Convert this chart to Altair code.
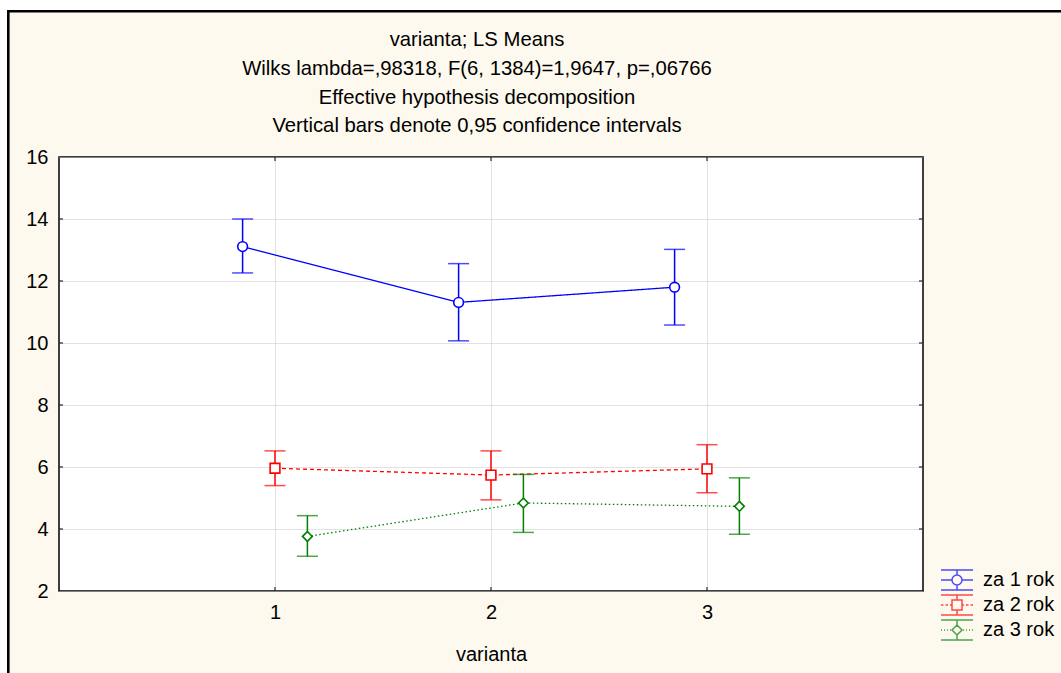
import altair as alt
import pandas as pd

series = ["za 1 rok", "za 2 rok", "za 3 rok"]
varianta = [1, 2, 3]
means = {
    "za 1 rok": [13.11, 11.31, 11.80],
    "za 2 rok": [5.96, 5.74, 5.94],
    "za 3 rok": [3.76, 4.84, 4.73],
}
lows = {
    "za 1 rok": [12.26, 10.07, 10.58],
    "za 2 rok": [5.40, 4.94, 5.17],
    "za 3 rok": [3.12, 3.89, 3.83],
}
highs = {
    "za 1 rok": [14.00, 12.56, 13.02],
    "za 2 rok": [6.52, 6.52, 6.72],
    "za 3 rok": [4.43, 5.76, 5.65],
}
title_lines = [
    "varianta; LS Means",
    "Wilks lambda=,98318, F(6, 1384)=1,9647, p=,06766",
    "Effective hypothesis decomposition",
    "Vertical bars denote 0,95 confidence intervals",
]
y_ticks = [2, 4, 6, 8, 10, 12, 14, 16]
x_ticks = [1, 2, 3]

colors = ["#0000ff", "#ff0000", "#008000"]
shapes = ["circle", "square", "diamond"]
dashes = [[1, 0], [4, 3], [1.5, 2.5]]
offsets = [-0.15, 0.0, 0.15]

rows = []
for s in series:
    for i, v in enumerate(varianta):
        rows.append({"series": s, "varianta": v, "mean": means[s][i],
                     "lo": lows[s][i], "hi": highs[s][i]})
df = pd.DataFrame(rows)

FONT = "Liberation Sans"
W, H = 864, 434
PL, PT = 59, 157
TOTW, TOTH = 1061, 673
TK = 4  # inward tick length

xscale = alt.Scale(domain=[0, 4], nice=False, zero=False)
yscale = alt.Scale(domain=[2, 16], nice=False, zero=False)

xaxis = alt.Axis(values=x_ticks, title="varianta", labelAngle=0, grid=True,
                 gridDash=[1, 1], gridColor="#c4c4c4", ticks=False, domain=False,
                 labelFontSize=20, labelFont=FONT, labelColor="black",
                 labelPadding=11, titleFontSize=20, titleFont=FONT,
                 titleFontWeight="normal", titleColor="black", titlePadding=22)
yaxis = alt.Axis(values=y_ticks, title=None, grid=True, gridDash=[1, 1],
                 gridColor="#c4c4c4", ticks=False, domain=False,
                 labelFontSize=20, labelFont=FONT, labelColor="black",
                 labelPadding=11)

def X(field):
    return alt.X(field, scale=xscale, axis=xaxis)

def Y(field):
    return alt.Y(field, scale=yscale, axis=yaxis)

# inward tick marks on the frame, placed through the scales
ytk = pd.DataFrame({"v": y_ticks[1:-1]})
xtk = pd.DataFrame({"v": x_ticks})
tick_layers = [
    alt.Chart(ytk).mark_rule(color="black", strokeWidth=1).encode(
        y=Y("v:Q"), x=alt.value(0), x2=alt.value(TK)),
    alt.Chart(ytk).mark_rule(color="black", strokeWidth=1).encode(
        y=Y("v:Q"), x=alt.value(W - TK), x2=alt.value(W)),
    alt.Chart(xtk).mark_rule(color="black", strokeWidth=1).encode(
        x=X("v:Q"), y=alt.value(H - TK), y2=alt.value(H)),
    alt.Chart(xtk).mark_rule(color="black", strokeWidth=1).encode(
        x=X("v:Q"), y=alt.value(0), y2=alt.value(TK)),
]

base = alt.Chart(df)
layers = []
for s, c, sh, d, off in zip(series, colors, shapes, dashes, offsets):
    b = base.transform_filter(alt.datum.series == s).transform_calculate(
        xp=f"datum.varianta + ({off})")
    line = b.mark_line(color=c, strokeWidth=1.3, strokeDash=d).encode(
        x=X("xp:Q"), y=Y("mean:Q"))
    rule = b.mark_rule(color=c, strokeWidth=1.5).encode(
        x=X("xp:Q"), y=Y("lo:Q"), y2="hi:Q")
    caplo = b.mark_tick(color=c, orient="horizontal", size=21, thickness=1.5).encode(
        x=X("xp:Q"), y=Y("lo:Q"))
    caphi = b.mark_tick(color=c, orient="horizontal", size=21, thickness=1.5).encode(
        x=X("xp:Q"), y=Y("hi:Q"))
    pts = b.mark_point(shape=sh, filled=False, fill="white", fillOpacity=1,
                       stroke=c, strokeWidth=1.6, size=95, opacity=1).encode(
        x=X("xp:Q"), y=Y("mean:Q"))
    layers += [line, rule, caplo, caphi, pts]

# legend glyphs (error bar + marker + connecting line), as custom symbol paths
caps = "M-1.6,-1H1.6M-1.6,1H1.6M0,-1V-0.5M0,0.5V1"
leg_paths = [
    caps + "M-1.6,0H-0.5M0.5,0H1.6M0.5,0A0.5,0.5,0,1,1,-0.5,0A0.5,0.5,0,1,1,0.5,0Z",
    caps + "M-1.6,0H-1.35M-1.15,0H-0.9M-0.7,0H-0.5M0.5,0H0.7M0.9,0H1.15M1.35,0H1.6"
           "M-0.5,-0.5H0.5V0.5H-0.5Z",
    caps + "M-1.6,0H-1.5M-1.3,0H-1.2M-1.0,0H-0.9M-0.7,0H-0.6"
           "M0.6,0H0.7M0.9,0H1.0M1.2,0H1.3M1.5,0H1.6"
           "M0,-0.5L0.5,0L0,0.5L-0.5,0Z",
]
legend = alt.Legend(title=None, orient="none", legendX=887, legendY=412,
                    symbolSize=400, symbolStrokeWidth=1.5, labelFontSize=20,
                    labelFont=FONT, labelColor="black", labelOffset=15,
                    rowPadding=-1, padding=0, symbolFillColor="transparent")
leg_layer = base.transform_filter("false").mark_point(filled=False).encode(
    x=X("varianta:Q"),
    y=Y("mean:Q"),
    color=alt.Color("series:N", scale=alt.Scale(domain=series, range=colors), legend=legend),
    shape=alt.Shape("series:N", scale=alt.Scale(domain=series, range=leg_paths), legend=legend),
)
layers.append(leg_layer)

one = pd.DataFrame({"k": [0]})

# chart title (four centred lines)
title_baselines = [46, 75, 103.5, 132]
title_layers = [
    alt.Chart(one).mark_text(fontSize=20.3, font=FONT, color="black", align="center",
                             baseline="alphabetic").encode(
        x=alt.value(477 - PL), y=alt.value(yb - PT), text=alt.value(t))
    for t, yb in zip(title_lines, title_baselines)
]

# outer window frame
deco = [
    alt.Chart(one).mark_rule(color="white", strokeWidth=10).encode(
        x=alt.value(-PL), x2=alt.value(TOTW - PL), y=alt.value(-PT + 5)),
    alt.Chart(one).mark_rule(color="white", strokeWidth=7.5).encode(
        y=alt.value(-PT), y2=alt.value(TOTH - PT), x=alt.value(-PL + 3.5)),
    alt.Chart(one).mark_rule(color="black", strokeWidth=2.6).encode(
        x=alt.value(-PL + 7), x2=alt.value(TOTW - PL), y=alt.value(-PT + 11.3)),
    alt.Chart(one).mark_rule(color="black", strokeWidth=2.6).encode(
        y=alt.value(-PT + 10), y2=alt.value(TOTH - PT), x=alt.value(-PL + 8.3)),
]

chart = alt.layer(*tick_layers, *layers, *title_layers, *deco).properties(
    width=W, height=H,
    autosize=alt.AutoSizeParams(type="none"),
    padding={"left": PL, "top": PT, "right": TOTW - PL - W, "bottom": TOTH - PT - H},
    background="#fef9ee",
).configure_view(fill="white", stroke="black", strokeWidth=1.5)

chart.save("out.html", embed_options={"renderer": "svg", "actions": False})
